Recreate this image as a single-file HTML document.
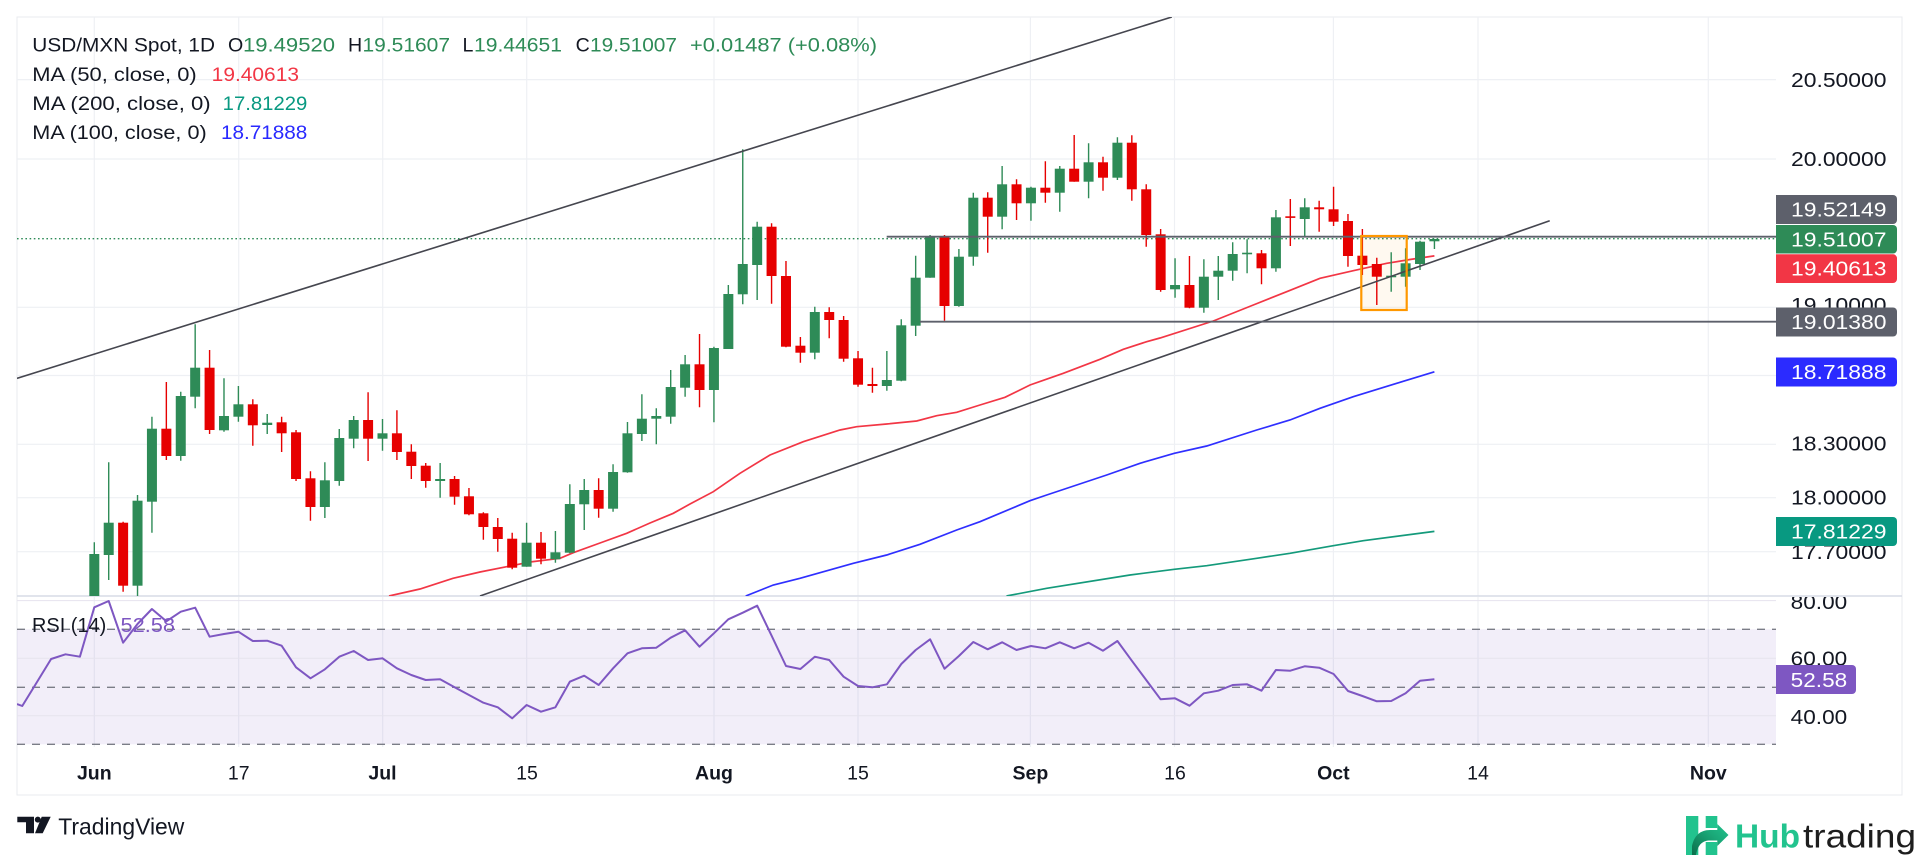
<!DOCTYPE html>
<html><head><meta charset="utf-8"><style>
html,body{margin:0;padding:0;background:#fff;}
body{width:1920px;height:856px;overflow:hidden;}
svg{display:block;font-family:"Liberation Sans",Arial,sans-serif;}
</style></head><body>
<svg width="1920" height="856" viewBox="0 0 1920 856" xmlns="http://www.w3.org/2000/svg">
<defs>
<clipPath id="cm"><rect x="17" y="17" width="1759" height="579"/></clipPath>
<clipPath id="cr"><rect x="17" y="597" width="1759" height="150"/></clipPath>
<clipPath id="ca"><rect x="1776" y="597" width="126" height="150"/></clipPath>
<linearGradient id="hg" x1="0" y1="1" x2="1" y2="0"><stop offset="0" stop-color="#0b6e4b"/><stop offset="0.6" stop-color="#1aa878"/><stop offset="1" stop-color="#22c38e"/></linearGradient>
</defs>
<rect width="1920" height="856" fill="#fff"/>
<!-- frame -->
<rect x="17" y="17" width="1885" height="778" fill="none" stroke="#e9ebef" stroke-width="1"/>
<!-- grid main -->
<g stroke="#eef0f4" stroke-width="1.2">
<path d="M17 79.6H1776M17 159H1776M17 307.3H1776M17 375.5H1776M17 444.3H1776M17 497.7H1776M17 551.7H1776"/>
<path d="M94.3 17V596M238.7 17V596M382.7 17V596M526.7 17V596M714 17V596M858 17V596M1030.4 17V596M1174.5 17V596M1333.4 17V596M1478 17V596M1708.3 17V596"/>
<path d="M94.3 597V747M238.7 597V747M382.7 597V747M526.7 597V747M714 597V747M858 597V747M1030.4 597V747M1174.5 597V747M1333.4 597V747M1478 597V747M1708.3 597V747"/>
</g>
<!-- pane separator -->
<line x1="17" y1="596" x2="1902" y2="596" stroke="#d7dbe5" stroke-width="1.5"/>
<g clip-path="url(#cm)">
<!-- dotted close line -->
<line x1="17" y1="238.7" x2="1776" y2="238.7" stroke="#2e8b57" stroke-width="1.4" stroke-dasharray="1.6 2.6"/>
<!-- orange box fill -->
<rect x="1361.3" y="236" width="45.4" height="74" fill="#ff9800" fill-opacity="0.06"/>
<!-- MAs -->
<polyline fill="none" stroke="#f23645" stroke-width="1.7" points="389,596 420,589 453,578.3 480,572 506.7,566.7 530,562 560,558.3 573.3,552.7 600,543 626.7,533.3 650,523 673.3,513.3 690,504 713.3,491.7 740,473.3 770,455 803.3,441.7 840,430 856.7,426.7 886.7,424 916.7,421 936.7,415.7 956.7,412.3 980,405 1005,397.3 1030,385 1063.3,373.3 1100,359.3 1123.3,349.3 1146.7,341.7 1160,338 1213.3,321 1253.3,305 1286.7,291.7 1320,278.3 1353.3,270.7 1386.7,263.3 1410,259.5 1434.4,255.9"/>
<polyline fill="none" stroke="#2f2fff" stroke-width="1.7" points="745.7,596 773.3,585 800,578.3 853.3,563.3 886.7,555 920,544.3 956.7,530 980,521.7 1030,500.7 1046.7,495 1106.7,475 1140,463.3 1174.3,453.3 1206.7,446 1256.7,430 1290,420 1320,408.3 1353.3,396.7 1396.7,383.3 1434.4,371.8"/>
<polyline fill="none" stroke="#149a7b" stroke-width="1.7" points="1006.5,596 1046.7,588.3 1130,575 1174.3,569.3 1206.7,565.7 1256.7,558.3 1290,553.3 1333.3,545.7 1363.3,540.7 1434.4,531.4"/>
<!-- candles -->
<path fill="none" stroke="#2e8b57" stroke-width="1.4" d="M94.3 542.3V610M108.71 462.3V580M137.53 495V598M151.94 416.7V532.7M180.76 391.7V460.7M195.17 324.3V408.3M223.99 378.3V431.7M238.4 386V421.7M267.22 414V434M324.86 462.3V518M339.27 429V485.7M353.68 416V448.3M382.5 419V450.7M440.14 463V497.7M526.6 522.7V566.7M555.42 531V562.7M569.83 484.3V553.3M584.24 479V530M613.06 464.3V511.7M627.47 422V472.7M641.88 394.3V441M656.29 408.3V444.3M670.7 370V423.7M685.11 355V396.7M713.93 346.7V422.3M728.34 285V349M742.75 149.3V304.3M757.16 221.7V300M814.8 306.7V359.3M886.85 351V390.7M901.26 319.3V381.3M915.67 255.7V336M930.08 235V277.7M958.9 249V306.7M973.31 192.7V265.7M1002.13 166V229.3M1030.95 186.7V220.7M1059.77 166V211.7M1088.59 143.3V198.3M1117.41 137.3V180M1175.05 258.3V297.7M1203.87 259.3V312.7M1218.28 256V300M1232.69 242.3V280.7M1247.1 239.3V273.3M1275.92 210V271.7M1304.74 198.3V236M1391.2 252.3V291.7M1405.61 248.3V286.7M1420.02 240.7V270M1434.43 238.7V249"/>
<path fill="none" stroke="#e60000" stroke-width="1.4" d="M123.12 521.7V591.7M166.35 382V460M209.58 350V434M252.81 399.3V445.7M281.63 416.7V452M296.04 430V481M310.45 471.3V520.7M368.09 392.3V461M396.91 410.3V460M411.32 444.3V479M425.73 463V487.7M454.55 476V504.7M468.96 488V515.3M483.37 512.3V539.7M497.78 518V551.7M512.19 532.7V569.3M541.01 532V564.3M598.65 478.3V517.7M699.52 334V407.3M771.57 223.3V303.7M785.98 261V347.3M800.39 337V362.7M829.21 307.3V338.3M843.62 316V361.7M858.03 351V386.7M872.44 367.7V392.7M944.49 235V320.7M987.72 192.3V252.7M1016.54 179.3V220M1045.36 161.3V202.7M1074.18 135V181.7M1103 156.7V190.7M1131.82 135.3V200.7M1146.23 184.3V246.7M1160.64 229V291.7M1189.46 256V308.3M1261.51 250V284.3M1290.33 199V246M1319.15 200.7V231.7M1333.56 186.7V226M1347.97 214V266.7M1362.38 229V275M1376.79 257.7V305"/>
<g fill="#2e8b57">
<rect x="89.3" y="554" width="10" height="56"/><rect x="103.71" y="522.7" width="10" height="32.3"/><rect x="132.53" y="500.7" width="10" height="85"/><rect x="146.94" y="428.7" width="10" height="73"/><rect x="175.76" y="396" width="10" height="60"/><rect x="190.17" y="367.7" width="10" height="29"/><rect x="218.99" y="416" width="10" height="14.3"/><rect x="233.4" y="404.3" width="10" height="12.4"/><rect x="262.22" y="422.7" width="10" height="2.3"/><rect x="319.86" y="480.3" width="10" height="26.7"/><rect x="334.27" y="438" width="10" height="43"/><rect x="348.68" y="420" width="10" height="18.7"/><rect x="377.5" y="433.3" width="10" height="5.4"/><rect x="435.14" y="479" width="10" height="2"/><rect x="521.6" y="542.7" width="10" height="24"/><rect x="550.42" y="552.3" width="10" height="7"/><rect x="564.83" y="504" width="10" height="48.7"/><rect x="579.24" y="490" width="10" height="14.3"/><rect x="608.06" y="472" width="10" height="36.7"/><rect x="622.47" y="433.3" width="10" height="39"/><rect x="636.88" y="418.7" width="10" height="15.3"/><rect x="651.29" y="416" width="10" height="2.7"/><rect x="665.7" y="387" width="10" height="29.7"/><rect x="680.11" y="364.3" width="10" height="23.4"/><rect x="708.93" y="348" width="10" height="42"/><rect x="723.34" y="294" width="10" height="55"/><rect x="737.75" y="264" width="10" height="30.3"/><rect x="752.16" y="226.7" width="10" height="38.3"/><rect x="809.8" y="312" width="10" height="40.7"/><rect x="881.85" y="380" width="10" height="6"/><rect x="896.26" y="325.3" width="10" height="55.4"/><rect x="910.67" y="277.7" width="10" height="48"/><rect x="925.08" y="236.7" width="10" height="41"/><rect x="953.9" y="256.7" width="10" height="49.3"/><rect x="968.31" y="197.7" width="10" height="59"/><rect x="997.13" y="184.3" width="10" height="32.4"/><rect x="1025.95" y="187.7" width="10" height="15.6"/><rect x="1054.77" y="168.7" width="10" height="24"/><rect x="1083.59" y="162.3" width="10" height="19.4"/><rect x="1112.41" y="142.7" width="10" height="35"/><rect x="1170.05" y="285" width="10" height="4.3"/><rect x="1198.87" y="276.7" width="10" height="31"/><rect x="1213.28" y="270.7" width="10" height="6"/><rect x="1227.69" y="254" width="10" height="16.7"/><rect x="1242.1" y="252.7" width="10" height="1.6"/><rect x="1270.92" y="217.3" width="10" height="51"/><rect x="1299.74" y="207.3" width="10" height="11.7"/><rect x="1386.2" y="275.7" width="10" height="1.6"/><rect x="1400.61" y="263.3" width="10" height="13.4"/><rect x="1415.02" y="241.7" width="10" height="22.3"/><rect x="1429.43" y="239" width="10" height="2.3"/>
</g>
<g fill="#e60000">
<rect x="118.12" y="522.7" width="10" height="63"/><rect x="161.35" y="428.7" width="10" height="27.3"/><rect x="204.58" y="367.7" width="10" height="62.3"/><rect x="247.81" y="404.3" width="10" height="21"/><rect x="276.63" y="422.3" width="10" height="11"/><rect x="291.04" y="432.3" width="10" height="46.7"/><rect x="305.45" y="478.3" width="10" height="28.7"/><rect x="363.09" y="420" width="10" height="18.7"/><rect x="391.91" y="433.3" width="10" height="18.7"/><rect x="406.32" y="451.7" width="10" height="14.3"/><rect x="420.73" y="465.7" width="10" height="15.3"/><rect x="449.55" y="479" width="10" height="17.7"/><rect x="463.96" y="496.3" width="10" height="18"/><rect x="478.37" y="513.3" width="10" height="13.7"/><rect x="492.78" y="527" width="10" height="12"/><rect x="507.19" y="538.7" width="10" height="29"/><rect x="536.01" y="542.7" width="10" height="16"/><rect x="593.65" y="490" width="10" height="18.7"/><rect x="694.52" y="364.3" width="10" height="25.7"/><rect x="766.57" y="226.7" width="10" height="49.3"/><rect x="780.98" y="276" width="10" height="70.7"/><rect x="795.39" y="345.7" width="10" height="7"/><rect x="824.21" y="312" width="10" height="8"/><rect x="838.62" y="320" width="10" height="38.7"/><rect x="853.03" y="358.3" width="10" height="26.4"/><rect x="867.44" y="384" width="10" height="2"/><rect x="939.49" y="236.7" width="10" height="69.3"/><rect x="982.72" y="197.7" width="10" height="19"/><rect x="1011.54" y="184.3" width="10" height="19"/><rect x="1040.36" y="187.7" width="10" height="5"/><rect x="1069.18" y="168.7" width="10" height="13"/><rect x="1098" y="162.3" width="10" height="15.4"/><rect x="1126.82" y="142.7" width="10" height="46.6"/><rect x="1141.23" y="189.3" width="10" height="45.7"/><rect x="1155.64" y="234.3" width="10" height="55.7"/><rect x="1184.46" y="285" width="10" height="22.7"/><rect x="1256.51" y="253.3" width="10" height="15"/><rect x="1285.33" y="216.3" width="10" height="1.6"/><rect x="1314.15" y="207.3" width="10" height="2"/><rect x="1328.56" y="209.3" width="10" height="12.4"/><rect x="1342.97" y="221" width="10" height="35"/><rect x="1357.38" y="255.7" width="10" height="9.3"/><rect x="1371.79" y="264" width="10" height="12.7"/>
</g>
<!-- drawings -->
<line x1="17" y1="378.3" x2="1171.8" y2="17" stroke="#45464f" stroke-width="1.6"/>
<line x1="480" y1="596" x2="1549.7" y2="220.7" stroke="#45464f" stroke-width="1.6"/>
<line x1="886.7" y1="236.7" x2="1776" y2="236.7" stroke="#5d606b" stroke-width="1.8"/>
<line x1="920" y1="321.7" x2="1776" y2="321.7" stroke="#5d606b" stroke-width="1.8"/>
<rect x="1361.3" y="236" width="45.4" height="74" fill="none" stroke="#ff9800" stroke-width="2.2"/>
</g>
<!-- legend -->
<g font-size="19.6" fill="#131722">
<text x="32.3" y="51.7" textLength="182.7" lengthAdjust="spacingAndGlyphs">USD/MXN Spot, 1D</text>
<text x="228" y="51.7">O</text><text x="243" y="51.7" fill="#2e8b57" textLength="92" lengthAdjust="spacingAndGlyphs">19.49520</text>
<text x="348" y="51.7">H</text><text x="362.5" y="51.7" fill="#2e8b57" textLength="87.5" lengthAdjust="spacingAndGlyphs">19.51607</text>
<text x="462.5" y="51.7">L</text><text x="474" y="51.7" fill="#2e8b57" textLength="88" lengthAdjust="spacingAndGlyphs">19.44651</text>
<text x="575.6" y="51.7">C</text><text x="590" y="51.7" fill="#2e8b57" textLength="87" lengthAdjust="spacingAndGlyphs">19.51007</text>
<text x="690" y="51.7" fill="#2e8b57" textLength="187" lengthAdjust="spacingAndGlyphs">+0.01487 (+0.08%)</text>
<text x="32.3" y="81" textLength="164.4" lengthAdjust="spacingAndGlyphs">MA (50, close, 0)</text>
<text x="211.7" y="81" fill="#f23645" textLength="87.3" lengthAdjust="spacingAndGlyphs">19.40613</text>
<text x="32.3" y="110" textLength="178.4" lengthAdjust="spacingAndGlyphs">MA (200, close, 0)</text>
<text x="222.7" y="110" fill="#089981" textLength="84.6" lengthAdjust="spacingAndGlyphs">17.81229</text>
<text x="32.3" y="139" textLength="174.4" lengthAdjust="spacingAndGlyphs">MA (100, close, 0)</text>
<text x="221" y="139" fill="#2929ff" textLength="86.3" lengthAdjust="spacingAndGlyphs">18.71888</text>
</g>
<!-- price axis -->
<g font-size="20" fill="#131722">
<text x="1791" y="87" textLength="95.5" lengthAdjust="spacingAndGlyphs">20.50000</text>
<text x="1791" y="166" textLength="95.5" lengthAdjust="spacingAndGlyphs">20.00000</text>
<text x="1791" y="312" textLength="95.5" lengthAdjust="spacingAndGlyphs">19.10000</text>
<text x="1791" y="450.5" textLength="95.5" lengthAdjust="spacingAndGlyphs">18.30000</text>
<text x="1791" y="504.5" textLength="95.5" lengthAdjust="spacingAndGlyphs">18.00000</text>
<text x="1791" y="559" textLength="95.5" lengthAdjust="spacingAndGlyphs">17.70000</text>
</g>
<path d="M1776 195H1893a4 4 0 0 1 4 4V220a4 4 0 0 1 -4 4H1776Z" fill="#5d606b"/>
<path d="M1776 225H1893a4 4 0 0 1 4 4V249.5a4 4 0 0 1 -4 4H1776Z" fill="#2e8b57"/>
<path d="M1776 254.3H1893a4 4 0 0 1 4 4V279a4 4 0 0 1 -4 4H1776Z" fill="#f23645"/>
<path d="M1776 307.5H1893a4 4 0 0 1 4 4V332.5a4 4 0 0 1 -4 4H1776Z" fill="#5d606b"/>
<path d="M1776 357.5H1893a4 4 0 0 1 4 4V382.5a4 4 0 0 1 -4 4H1776Z" fill="#2b2bff"/>
<path d="M1776 517H1893a4 4 0 0 1 4 4V542a4 4 0 0 1 -4 4H1776Z" fill="#089981"/>
<g font-size="20" fill="#fff">
<text x="1791" y="216.5" textLength="95.5" lengthAdjust="spacingAndGlyphs">19.52149</text>
<text x="1791" y="246.3" textLength="95.5" lengthAdjust="spacingAndGlyphs">19.51007</text>
<text x="1791" y="275.7" textLength="95.5" lengthAdjust="spacingAndGlyphs">19.40613</text>
<text x="1791" y="329" textLength="95.5" lengthAdjust="spacingAndGlyphs">19.01380</text>
<text x="1791" y="379" textLength="95.5" lengthAdjust="spacingAndGlyphs">18.71888</text>
<text x="1791" y="538.5" textLength="95.5" lengthAdjust="spacingAndGlyphs">17.81229</text>
</g>
<!-- RSI pane -->
<g clip-path="url(#cr)">
<rect x="17" y="629.3" width="1759" height="115" fill="#7e57c2" fill-opacity="0.1"/>
<path d="M17 600.6H1776M17 658.3H1776M17 715.7H1776" stroke="#e6e3ee" stroke-width="1"/>
<path d="M17 629.3H1776M17 687.3H1776M17 744.3H1776" stroke="#7b7d87" stroke-width="1.3" stroke-dasharray="8 7"/>
<polyline fill="none" stroke="#7e57c2" stroke-width="2" stroke-linejoin="round" points="17,704 22.25,706 36.7,682.5 51.1,659 65.5,654.3 79.9,656.7 94.3,607.3 108.7,601 123.1,642.7 137.5,624 151.9,609 166.4,621.3 180.8,611.7 195.2,607.7 209.6,636.7 224,634 238.4,631.7 252.8,641 267.2,640.7 281.6,645.7 296,667.3 310.5,678.3 324.9,669.3 339.3,656.7 353.7,651 368.1,660 382.5,658.3 396.9,668.3 411.3,675 425.7,680 440.1,679.3 454.6,687.3 469,695 483.4,702.7 497.8,707.3 512.2,718.3 526.6,705 541,711.7 555.4,707.3 569.8,681.7 584.2,675.7 598.7,685 613.1,668.3 627.5,653.3 641.9,648.3 656.3,647.7 670.7,637.7 685.1,630.3 699.5,646.7 713.9,633.3 728.3,619.3 742.8,612.7 757.2,605.7 771.6,635.7 786,666 800.4,669 814.8,656.7 829.2,660 843.6,676.7 858,686 872.4,687.3 886.9,684.3 901.3,664 915.7,650 930.1,639.3 944.5,668.7 958.9,656 973.3,642 987.7,649.3 1002.1,642.3 1016.5,650 1031,646 1045.4,648.3 1059.8,642.3 1074.2,648.3 1088.6,642.7 1103,650.7 1117.4,641 1131.8,660.7 1146.2,680 1160.6,699.3 1175,698.3 1189.5,705.7 1203.9,693.3 1218.3,690.7 1232.7,685 1247.1,684.3 1261.5,690.7 1275.9,670 1290.3,670.7 1304.7,666.3 1319.2,667.7 1333.6,674 1348,691 1362.4,696 1376.8,701.3 1391.2,701 1405.6,693.3 1420,680.7 1434.4,679.3"/>
<text x="32" y="632" font-size="20" fill="#131722" textLength="74.3" lengthAdjust="spacingAndGlyphs">RSI (14)</text>
<text x="120.5" y="632" font-size="20" fill="#7e57c2" textLength="54.5" lengthAdjust="spacingAndGlyphs">52.58</text>
</g>
<g clip-path="url(#ca)" font-size="20" fill="#131722">
<text x="1790.7" y="609" textLength="56.5" lengthAdjust="spacingAndGlyphs">80.00</text>
<text x="1790.7" y="665.5" textLength="56.5" lengthAdjust="spacingAndGlyphs">60.00</text>
<text x="1790.7" y="724" textLength="56.5" lengthAdjust="spacingAndGlyphs">40.00</text>
</g>
<path d="M1776 665H1852a4 4 0 0 1 4 4V690a4 4 0 0 1 -4 4H1776Z" fill="#7e57c2"/>
<text x="1790.7" y="686.8" font-size="20" fill="#fff" textLength="56.5" lengthAdjust="spacingAndGlyphs">52.58</text>
<!-- time axis -->
<g font-size="19.5" fill="#131722" text-anchor="middle">
<text x="94.3" y="779.5" font-weight="bold">Jun</text>
<text x="238.7" y="779.5">17</text>
<text x="382.5" y="779.5" font-weight="bold">Jul</text>
<text x="527" y="779.5">15</text>
<text x="714" y="779.5" font-weight="bold">Aug</text>
<text x="858" y="779.5">15</text>
<text x="1030.4" y="779.5" font-weight="bold">Sep</text>
<text x="1175" y="779.5">16</text>
<text x="1333.4" y="779.5" font-weight="bold">Oct</text>
<text x="1478" y="779.5">14</text>
<text x="1708.3" y="779.5" font-weight="bold">Nov</text>
</g>
<!-- TradingView logo -->
<g fill="#131722">
<path d="M17.3 816.7H34V833.3H26V822.3H17.3Z"/>
<circle cx="37.8" cy="819.6" r="3"/>
<path d="M41.7 816.7H50.7L42.7 833.3H35Z"/>
<text x="58.3" y="834.3" font-size="23.3" textLength="126" lengthAdjust="spacingAndGlyphs">TradingView</text>
</g>
<!-- Hubtrading logo -->
<g>
<rect x="1686" y="816" width="12.3" height="39" fill="#22c38e"/>
<rect x="1705.7" y="816" width="11.6" height="12" fill="#22c38e"/>
<rect x="1705.7" y="842" width="11.6" height="13" fill="#22c38e"/>
<path d="M1692 846C1694 836 1700 830 1710 830H1717.3V824L1728.5 835L1717.3 846V840.5H1710C1703 840.5 1698 844 1696 855H1692Z" fill="url(#hg)"/>
<text x="1735" y="847.3" font-size="33" font-weight="bold" fill="#22c38e" textLength="65" lengthAdjust="spacingAndGlyphs">Hub</text>
<text x="1803" y="847.3" font-size="33" fill="#1e1e1e" textLength="113" lengthAdjust="spacingAndGlyphs">trading</text>
</g>
</svg>
</body></html>
